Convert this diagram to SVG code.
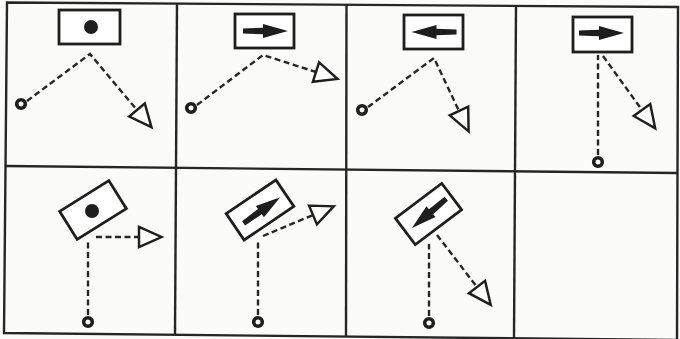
<svg xmlns="http://www.w3.org/2000/svg" width="680" height="339" viewBox="0 0 680 339">
<style>
.grid{stroke:#262626;stroke-width:2.4;fill:none}
.box{fill:#fff;stroke:#1e1e1e;stroke-width:2.8}
.dot{fill:#1e1e1e}
.arr{fill:#1e1e1e}
.conn{stroke:#262626;stroke-width:2.4;fill:none;stroke-dasharray:6 3.5}
.start{fill:#fff;stroke:#1e1e1e;stroke-width:3.6}
</style>
<defs>
<marker id="tri" markerUnits="userSpaceOnUse" markerWidth="30" markerHeight="30" viewBox="-3 -13 28 26" refX="0" refY="0" orient="auto" overflow="visible">
<path d="M0,-9.5 L21,0 L0,9.5 Z" fill="#fff" stroke="#1e1e1e" stroke-width="2.3" stroke-linejoin="miter"/>
</marker>
<path id="bigarrow" d="M-22,-2.6 L-2,-3.2 L-2,-7 L23,0 L-2,7 L-2,3.2 L-22,2.6 Z"/>
</defs>
<rect x="0" y="0" width="680" height="339" fill="#fbfbfa"/>
<g id="grid" class="grid">
<path d="M7,2.5 L678,7 L677,340 L4,333 Z"/>
<line x1="6" y1="166" x2="677" y2="173"/>
<line x1="177" y1="3" x2="175" y2="335"/>
<line x1="346.5" y1="4" x2="346" y2="337"/>
<line x1="516" y1="5" x2="514" y2="338"/>
</g>
<g id="connectors">
<polyline class="conn" points="27,101 90,54 137,110" marker-end="url(#tri)"/>
<polyline class="conn" points="197,105 263,55 316,72" marker-end="url(#tri)"/>
<polyline class="conn" points="368,107 434,58 459,111" marker-end="url(#tri)"/>
<line class="conn" x1="598" y1="155" x2="598" y2="55"/>
<line class="conn" x1="603" y1="56" x2="642" y2="110" marker-end="url(#tri)"/>
<line class="conn" x1="88" y1="315" x2="88" y2="241"/>
<line class="conn" x1="96" y1="237" x2="139" y2="237" marker-end="url(#tri)"/>
<line class="conn" x1="258" y1="315" x2="258" y2="240"/>
<line class="conn" x1="263" y1="236" x2="313" y2="215" marker-end="url(#tri)"/>
<line class="conn" x1="429" y1="316" x2="429" y2="244"/>
<line class="conn" x1="437" y1="235" x2="477" y2="287" marker-end="url(#tri)"/>
</g>
<g id="cell1">
<rect class="box" x="59" y="10" width="61" height="34"/>
<circle class="dot" cx="91" cy="27" r="7"/>
<circle class="start" cx="21" cy="104" r="4.3"/>
</g>
<g id="cell2">
<rect class="box" x="235" y="14" width="59" height="34"/>
<use href="#bigarrow" class="arr" transform="translate(265,31)"/>
<circle class="start" cx="191" cy="108" r="4.3"/>
</g>
<g id="cell3">
<rect class="box" x="404" y="15" width="59" height="34"/>
<use href="#bigarrow" class="arr" transform="translate(434.5,32) rotate(180)"/>
<circle class="start" cx="362" cy="110" r="4.3"/>
</g>
<g id="cell4">
<rect class="box" x="573" y="17" width="59" height="35"/>
<use href="#bigarrow" class="arr" transform="translate(601,33)"/>
<circle class="start" cx="598" cy="162" r="4.3"/>
</g>
<g id="cell5">
<rect class="box" x="-29" y="-16.5" width="58" height="33" transform="translate(93,210) rotate(-32)"/>
<circle class="dot" cx="92" cy="211" r="7"/>
<circle class="start" cx="88" cy="322" r="4.3"/>
</g>
<g id="cell6">
<rect class="box" x="-30" y="-16" width="60" height="32" transform="translate(260,210) rotate(-34)"/>
<use href="#bigarrow" class="arr" transform="translate(261.5,210.5) rotate(-35.5)"/>
<circle class="start" cx="258" cy="322" r="4.3"/>
</g>
<g id="cell7">
<rect class="box" x="-29" y="-16.5" width="58" height="33" transform="translate(428.5,214) rotate(-37)"/>
<use href="#bigarrow" class="arr" transform="translate(429.5,213) rotate(139.7)"/>
<circle class="start" cx="429" cy="323" r="4.3"/>
</g>
</svg>
